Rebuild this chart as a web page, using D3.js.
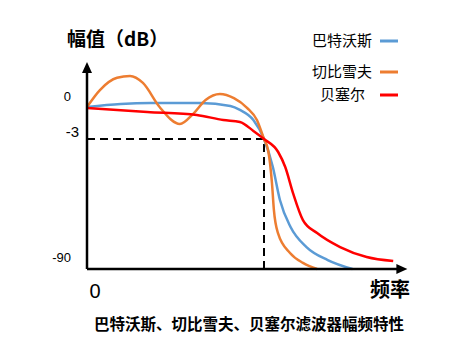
<!DOCTYPE html>
<html>
<head>
<meta charset="utf-8">
<script src="https://cdn.jsdelivr.net/npm/d3@7"></script>
<style>
  html, body { margin: 0; padding: 0; background: #fff; }
  svg { display: block; }
  text { font-family: "Noto Sans CJK SC", "Noto Sans", sans-serif; fill: #000; }
</style>
</head>
<body>
<svg id="chart" width="476" height="347"></svg>
<script>
// Normalised frequency (cut-off = 1) and magnitude in dB
const butterF = [0, 0.19, 0.36, 0.64, 0.81, 0.864, 0.94, 1.0, 1.05, 1.09, 1.15, 1.24, 1.36, 1.50];
const butterDb = [-0.33, -0.08, 0, 0, -0.25, -0.58, -1.42, -3, -22.4, -45.2, -63.9, -77.8, -86.8, -93];

const chebyF = [0, 0.073, 0.17, 0.243, 0.316, 0.41, 0.525, 0.60, 0.67, 0.751, 0.83, 0.904, 0.96, 1.0, 1.023, 1.045, 1.056, 1.079, 1.147, 1.22, 1.30];
const chebyDb = [-0.33, 1.08, 2.1, 2.25, 1.67, -0.33, -1.75, -0.9, 0.25, 0.75, 0.4, -0.4, -1.42, -3, -10.6, -33.5, -52.2, -68.1, -81.9, -88.8, -93];

const besselF = [0, 0.34, 0.62, 0.77, 0.864, 0.94, 1.0, 1.08, 1.12, 1.164, 1.22, 1.30, 1.43, 1.58, 1.73];
const besselDb = [-0.42, -0.75, -1.0, -1.42, -1.58, -2.33, -3, -12, -22.4, -40.4, -59.1, -68.1, -77.8, -84.7, -87.5];

const seriesNames = ["巴特沃斯", "切比雪夫", "贝塞尔"];
const seriesColors = ["#5B9BD5", "#ED7D31", "#FF0000"];

const yTickValues = [0, -3, -90];
const yTickLabels = ["0", "-3", "-90"];
const xTickLabel = "0";
const cutoffF = 1;
const cutoffDb = -3;

const yTitle = "幅值（dB）";
const xTitle = "频率";
const caption = "巴特沃斯、切比雪夫、贝塞尔滤波器幅频特性";

const svg = d3.select("#chart");

// Schematic scales: the dB axis is stretched near 0 and compressed below -3
const x = d3.scaleLinear().domain([0, 1]).range([87, 264]);
const y = d3.scaleLinear().domain([-93, -3, 0]).range([269, 139, 103]);

const xEnd = 1.81;   // where the frequency axis arrow ends
const yTop = 3.42;   // where the magnitude axis arrow ends

// Curves
const line = d3.line()
  .x(d => x(d[0]))
  .y(d => y(d[1]))
  .curve(d3.curveMonotoneX);

const series = [
  d3.zip(butterF, butterDb),
  d3.zip(chebyF, chebyDb),
  d3.zip(besselF, besselDb)
];

// -3 dB guide lines
svg.append("path")
  .attr("d", `M${x(0)},${y(cutoffDb)}H${x(cutoffF)}V${y(-93)}`)
  .attr("fill", "none")
  .attr("stroke", "#000")
  .attr("stroke-width", 2)
  .attr("stroke-dasharray", "8,5");

svg.selectAll("path.curve")
  .data(series)
  .join("path")
  .attr("class", "curve")
  .attr("d", line)
  .attr("fill", "none")
  .attr("stroke", (d, i) => seriesColors[i])
  .attr("stroke-width", 2.5)
  .attr("stroke-linejoin", "round");

// Draw Bessel on top of the others where they meet
svg.selectAll("path.curve").filter((d, i) => i === 2).raise();

// Axes with arrow heads
const x0 = x(0), y0 = y(-93);
svg.append("path")
  .attr("d", `M${x0},${y0}V${y(yTop) + 9}`)
  .attr("stroke", "#000").attr("stroke-width", 2.5);
svg.append("path")
  .attr("d", `M${x0},${y0}H${x(xEnd) - 9}`)
  .attr("stroke", "#000").attr("stroke-width", 2.5);
svg.append("path")
  .attr("d", `M${x0},${y(yTop)}l-5,11h10z`)
  .attr("fill", "#000");
svg.append("path")
  .attr("d", `M${x(xEnd)},${y0}l-11,-5v10z`)
  .attr("fill", "#000");

// Y tick labels
svg.selectAll("text.ytick")
  .data(yTickValues)
  .join("text")
  .attr("class", "ytick")
  .attr("x", (d, i) => i === 2 ? 71 : (i === 1 ? 79 : 71))
  .attr("y", d => y(d) - 7)
  .attr("dy", "0.35em")
  .attr("text-anchor", "end")
  .attr("font-size", (d, i) => i === 1 ? 15 : 13)
  .style("font-family", "'Liberation Sans', Arial, sans-serif")
  .text((d, i) => yTickLabels[i]);

// X tick label
svg.append("text")
  .attr("x", x(0) + 8)
  .attr("y", 291)
  .attr("dy", "0.35em")
  .attr("text-anchor", "middle")
  .attr("font-size", 20)
  .style("font-family", "'Liberation Sans', Arial, sans-serif")
  .text(xTickLabel);

// Axis titles
svg.append("text")
  .attr("x", 67)
  .attr("y", 39)
  .attr("dy", "0.35em")
  .attr("font-size", 19)
  .attr("font-weight", "bold")
  .text(yTitle);

svg.append("text")
  .attr("x", 410)
  .attr("y", 290)
  .attr("dy", "0.35em")
  .attr("text-anchor", "end")
  .attr("font-size", 20)
  .attr("font-weight", "bold")
  .text(xTitle);

// Legend
const legendY = [41, 72, 95];
const legend = svg.selectAll("g.legend")
  .data(seriesNames)
  .join("g")
  .attr("class", "legend")
  .attr("transform", (d, i) => `translate(0,${legendY[i]})`);
legend.append("text")
  .attr("x", (d, i) => i === 2 ? 365 : 372)
  .attr("dy", "0.35em")
  .attr("text-anchor", "end")
  .attr("font-size", 15)
  .text(d => d);
legend.append("line")
  .attr("x1", 380).attr("x2", 398)
  .attr("stroke", (d, i) => seriesColors[i])
  .attr("stroke-width", 3);

// Caption
svg.append("text")
  .attr("x", 249)
  .attr("y", 325)
  .attr("dy", "0.35em")
  .attr("text-anchor", "middle")
  .attr("font-size", 15.5)
  .attr("font-weight", "bold")
  .text(caption);
</script>
</body>
</html>
